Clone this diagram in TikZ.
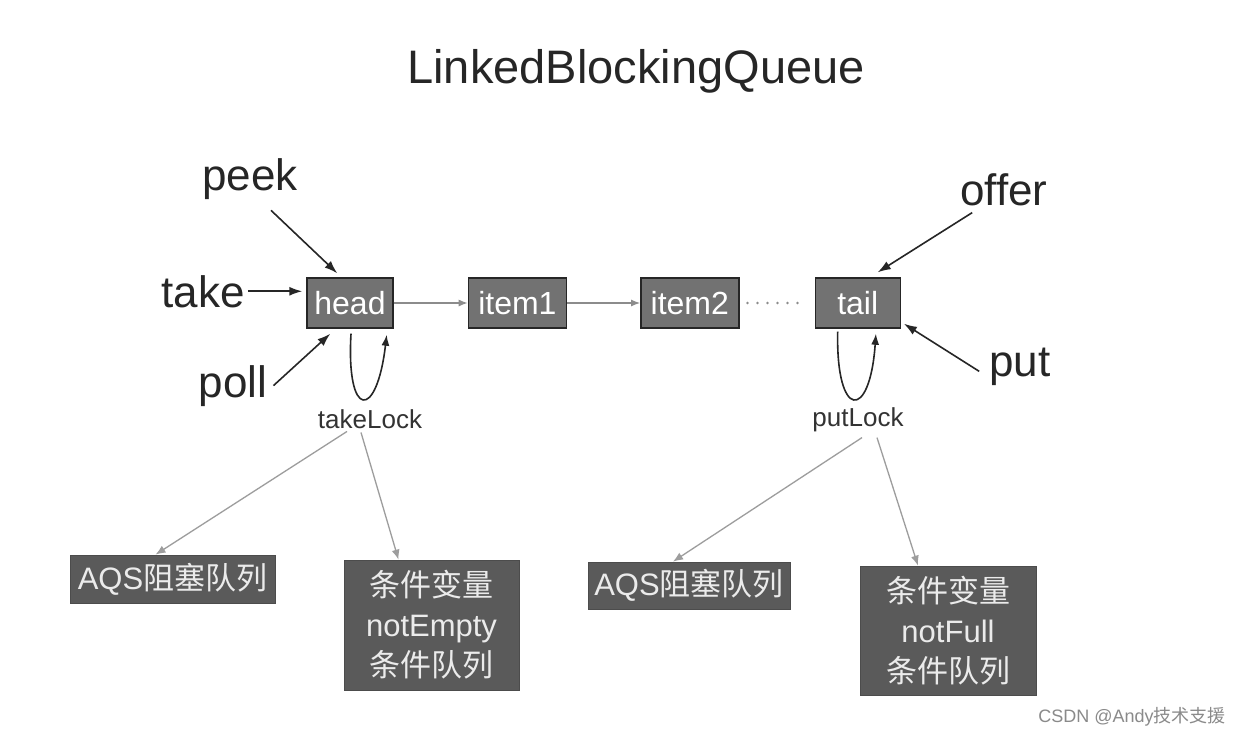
\documentclass[tikz,border=0pt]{standalone}
\usepackage{fontspec}
\setmainfont{Liberation Sans}
\newfontfamily\cjk{Noto Sans CJK SC}
\usetikzlibrary{arrows.meta,positioning}

\definecolor{nodegray}{HTML}{727272}
\definecolor{boxdark}{HTML}{5A5A5A}
\definecolor{linkgray}{HTML}{8C8C8C}
\definecolor{markgray}{HTML}{8A8A8A}

\begin{document}
\begin{tikzpicture}[
      x=1pt, y=-1pt,
      >=Latex,
      % list cells and the boxes under the locks
      qnode/.style={draw=black!85, line width=1.4pt, fill=nodegray, text=white, minimum height=50pt, inner sep=0pt, font=\fontsize{32}{36}\selectfont},
      qbox/.style={draw=black!70, line width=0.8pt, fill=boxdark, text=white!92!black, inner sep=0pt, align=center, font=\fontsize{31}{40}\selectfont},
      op/.style={inner sep=0pt, anchor=base, text=black!85, font=\fontsize{44}{48}\selectfont},
      lock/.style={inner sep=0pt, anchor=base, text=black!80, font=\fontsize{26}{30}\selectfont},
      blk/.style={-{Latex[length=13pt,width=9pt]}, line width=1.6pt, draw=black!85},
      link/.style={-{Latex[length=9pt,width=7pt]}, line width=1.3pt, draw=linkgray},
      down/.style={-{Latex[length=10pt,width=8pt]}, line width=1.3pt, draw=linkgray!85}
    ]
      \fill[white] (0,0) rectangle (1244,736);
      \useasboundingbox (0,0) rectangle (1244,736);

      \node[inner sep=0pt, anchor=base, text=black!85, font=\fontsize{47}{52}\selectfont] (title) at (636,83) {LinkedBlockingQueue};

      % the linked list
      \node[qnode, minimum width=86pt] (head) at (350,303) {head};
      \node[qnode, minimum width=98pt, right=74pt of head] (item1) {item1};
      \node[qnode, minimum width=98pt, right=73pt of item1] (item2) {item2};
      \node[qnode, minimum width=85pt, right=75pt of item2] (tail) {tail};
      \draw[link] (head.east) -- (item1.west);
      \draw[link] (item1.east) -- (item2.west);
      \draw[linkgray, line width=2.6pt, line cap=round, dash pattern=on 0pt off 10pt] ([xshift=8pt]item2.east) -- ([xshift=-8pt]tail.west);

      % take side
      \node[op] (peek) at (250,190) {peek};
      \node[op] (take) at (203,307) {take};
      \node[op] (poll) at (233,397) {poll};
      \draw[blk] ([shift={(21,11)}]peek.south) -- ([shift={(31,-4)}]head.north west);
      \draw[blk] ([xshift=3pt]take.east) -- ([xshift=-4pt]take.east -| head.west);
      \draw[blk] ([shift={(6,0)}]poll.east) -- ([shift={(24,5)}]head.south west);
      \draw[blk, -{Latex[length=11pt,width=8pt]}] ([shift={(1,5)}]head.south) .. controls +(-5,86) and +(-10,86) .. ([shift={(-7,6)}]head.south east);

      % put side
      \node[op] (offer) at (1004,205) {offer};
      \node[op] (put) at (1020,376) {put};
      \draw[blk] ([shift={(12,7)}]offer.south west) -- ([shift={(20,-5)}]tail.north);
      \draw[blk] ([shift={(-10,5)}]put.west) -- ([shift={(3,-5)}]tail.south east);
      \draw[blk, -{Latex[length=11pt,width=8pt]}] ([shift={(-20,3)}]tail.south) .. controls +(-2,88) and +(-6,88) .. ([shift={(-25,5)}]tail.south east);

      % locks
      \node[lock] (takelock) at (370,428) {takeLock};
      \node[lock] (putlock) at (858,426) {putLock};

      \node[qbox, minimum width=205pt, minimum height=48pt] (aqs1) at (172.5,579) {AQS{\cjk 阻塞队列}};
      \node[qbox, minimum width=175pt, minimum height=130pt] (cond1) at (431.5,625) {{\cjk 条件变量}\\notEmpty\\{\cjk 条件队列}};
      \node[qbox, minimum width=202pt, minimum height=47pt] (aqs2) at (689,585.5) {AQS{\cjk 阻塞队列}};
      \node[qbox, minimum width=176pt, minimum height=129pt] (cond2) at (948,630.5) {{\cjk 条件变量}\\notFull\\{\cjk 条件队列}};

      \draw[down] ([shift={(-23,3)}]takelock.south) -- ([xshift=-17pt]aqs1.north);
      \draw[down] ([shift={(-9,4)}]takelock.south) -- ([xshift=-33pt]cond1.north);
      \draw[down] ([shift={(4,6)}]putlock.south) -- ([xshift=-16pt]aqs2.north);
      \draw[down] ([shift={(19,6)}]putlock.south) -- ([xshift=-30pt]cond2.north);

      \node[inner sep=0pt, text=markgray, font=\fontsize{18}{20}\selectfont] (mark) at (1132,717) {CSDN @Andy{\cjk 技术支援}};
    \end{tikzpicture}
\end{document}
